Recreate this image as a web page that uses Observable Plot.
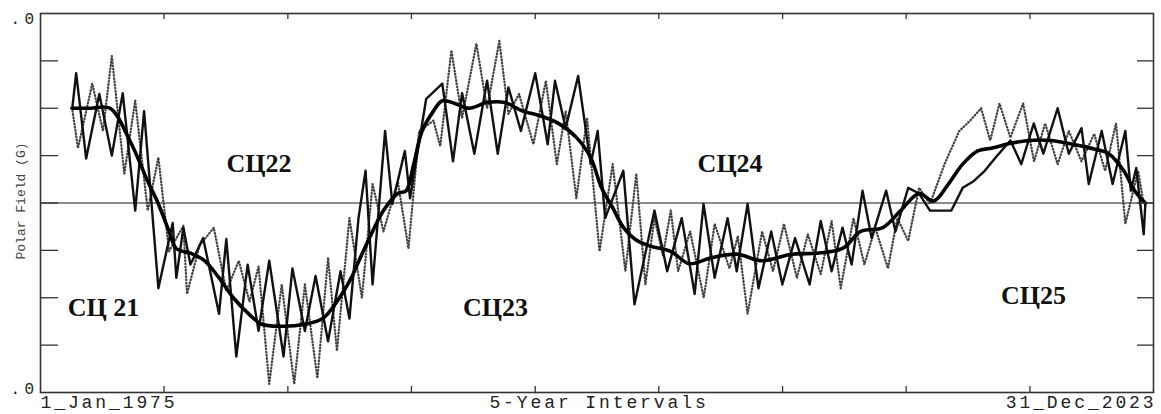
<!DOCTYPE html>
<html><head><meta charset="utf-8">
<script src="https://cdn.jsdelivr.net/npm/d3@7"></script>
<script src="https://cdn.jsdelivr.net/npm/@observablehq/plot@0.6"></script>
<style>
body{margin:0;background:#fff;}
</style>
</head><body><div id="chart"></div>
<script>
// Smoothed polar field (thick line)
const smoothT = [1976.38,1977.20,1978.06,1978.93,1979.72,1980.19,1980.66,1980.98,1981.60,1982.23,1982.86,1983.49,1984.12,1984.75,1985.70,1986.64,1987.42,1988.05,1988.68,1989.15,1989.62,1990.10,1990.73,1991.10,1991.43,1991.80,1992.30,1992.69,1993.24,1993.87,1994.66,1995.44,1996.23,1997.00,1997.80,1998.60,1999.22,1999.70,2000.19,2000.67,2001.16,2001.77,2002.74,2003.56,2004.50,2005.65,2006.77,2008.06,2009.17,2010.31,2011.11,2012.08,2012.87,2013.68,2014.32,2014.97,2015.60,2016.26,2016.90,2017.70,2018.50,2019.47,2020.43,2021.39,2022.03,2022.69,2023.17,2023.64];
const smoothV = [1.00,1.00,1.00,0.66,0.23,-0.01,-0.30,-0.48,-0.53,-0.61,-0.79,-1.00,-1.16,-1.28,-1.30,-1.28,-1.22,-1.04,-0.79,-0.54,-0.30,-0.08,0.10,0.13,0.41,0.76,0.97,1.08,1.05,1.00,1.06,1.06,0.97,0.92,0.84,0.69,0.48,0.16,-0.05,-0.26,-0.38,-0.45,-0.51,-0.64,-0.58,-0.54,-0.61,-0.54,-0.53,-0.48,-0.30,-0.26,-0.08,0.10,0.02,0.20,0.41,0.55,0.58,0.63,0.66,0.66,0.62,0.57,0.52,0.34,0.13,0.00];

// Raw polar field, solid line
const solidT = [1976.40,1976.57,1977.01,1977.59,1978.14,1978.62,1979.17,1979.56,1980.19,1980.82,1980.98,1981.29,1981.60,1982.16,1982.86,1983.18,1983.62,1984.12,1984.60,1985.07,1985.70,1986.09,1986.64,1987.11,1987.66,1988.21,1988.60,1989.00,1989.31,1989.62,1990.17,1990.49,1991.04,1991.27,1991.98,1992.69,1993.16,1993.56,1994.10,1994.66,1995.13,1995.60,1996.15,1996.78,1997.33,1997.65,1998.12,1998.67,1999.22,1999.53,1999.86,2000.66,2001.15,2002.03,2002.59,2003.23,2003.80,2004.19,2004.68,2005.25,2005.65,2006.13,2006.61,2007.17,2007.66,2008.22,2008.86,2009.35,2009.83,2010.31,2010.71,2011.19,2011.59,2012.23,2012.64,2013.20,2013.68,2014.16,2015.10,2015.60,2016.08,2016.57,2017.05,2017.70,2018.18,2018.73,2019.15,2019.78,2020.27,2020.83,2021.15,2021.72,2022.20,2022.76,2023.00,2023.24,2023.57,2023.64];
const solidV = [1.00,1.37,0.47,1.15,0.50,1.16,-0.08,0.97,-0.90,-0.21,-0.79,-0.26,-0.65,-0.37,-1.17,-0.38,-1.62,-0.65,-1.35,-0.61,-1.62,-0.69,-1.35,-0.77,-1.46,-0.72,-1.22,-0.16,0.34,-0.86,0.76,-0.01,0.55,0.05,1.10,1.26,0.44,1.16,0.52,1.29,0.52,1.22,0.76,1.37,0.62,1.29,0.79,1.34,0.41,0.76,-0.16,0.34,-1.07,-0.08,-0.72,-0.16,-0.96,-0.01,-0.79,-0.16,-0.72,-0.01,-0.90,-0.30,-0.86,-0.37,-0.86,-0.19,-0.72,-0.26,-0.65,0.13,-0.37,0.13,-0.30,0.16,0.10,-0.08,-0.08,0.16,0.23,0.34,0.48,0.66,0.41,0.84,0.52,1.00,0.52,0.79,0.20,0.76,0.20,0.76,0.13,0.37,-0.33,-0.01];

// Raw polar field, dotted line
const dotT = [1976.41,1976.65,1977.28,1977.75,1978.14,1978.69,1979.17,1979.72,1980.19,1980.66,1981.29,1981.45,1982.00,1982.63,1983.18,1983.73,1984.20,1984.60,1985.07,1985.62,1986.17,1986.64,1987.19,1987.66,1988.05,1988.60,1989.15,1989.62,1990.10,1990.73,1991.20,1991.67,1992.30,1992.60,1993.09,1993.56,1994.19,1994.66,1995.20,1995.60,1996.07,1996.70,1997.25,1997.73,1998.12,1998.59,1999.06,1999.61,2000.19,2000.75,2001.23,2001.63,2002.03,2002.40,2002.75,2003.07,2003.60,2004.20,2004.68,2005.33,2005.70,2006.13,2006.77,2007.25,2007.73,2008.30,2008.78,2009.35,2009.83,2010.23,2010.79,2011.27,2011.75,2012.31,2012.72,2013.20,2013.68,2014.16,2014.80,2015.45,2015.93,2016.41,2016.81,2017.22,2017.70,2018.26,2018.74,2019.23,2019.78,2020.27,2020.83,2021.39,2021.87,2022.35,2022.76,2023.32,2023.57];
const dotV = [0.97,0.58,1.26,0.76,1.55,0.31,1.08,-0.08,0.48,-0.51,-0.24,-0.96,-0.45,-0.26,-0.93,-0.61,-1.04,-0.67,-1.91,-0.86,-1.91,-0.86,-1.85,-0.58,-1.56,-0.16,-1.00,0.20,-0.30,0.23,-0.48,0.76,0.87,0.60,1.61,0.90,1.68,1.00,1.71,0.94,1.15,0.62,1.29,0.41,0.97,0.05,0.90,-0.51,0.41,-0.72,0.31,-0.86,-0.16,-0.55,-0.08,-0.72,-0.30,-1.00,-0.22,-0.69,-0.35,-1.17,-0.30,-0.72,-0.22,-0.79,-0.33,-0.75,-0.19,-0.90,-0.16,-0.65,-0.26,-0.69,-0.16,-0.40,0.16,-0.01,0.41,0.76,0.87,1.00,0.66,1.05,0.69,1.05,0.44,0.84,0.41,0.76,0.44,0.73,0.34,0.84,-0.22,0.34,-0.01];

// Axes and annotations
const xTicks = [1980.44,1985.89,1991.33,1996.78,2002.22,2007.67,2013.11,2018.56];
const yTicks = [-1.5,-1,-0.5,0,0.5,1,1.5];
const yEndTicks = [2,-2];
const yEndLabels = [".0",".0"];
const yTitle = "Polar Field (G)";
const bottomLabels = ["1_Jan_1975","5-Year Intervals","31_Dec_2023"];
const cycleNames = ["СЦ 21","СЦ22","СЦ23","СЦ24","СЦ25"];
const cycleT = [1977.77,1984.62,1995.03,2005.36,2018.72];
const cycleV = [-1.10,0.41,-1.10,0.41,-0.98];

const toRows = (T,V) => T.map((t,i) => ({t, v: V[i]}));
const smooth = toRows(smoothT, smoothV);
const solid = toRows(solidT, solidV);
const dotted = toRows(dotT, dotV);

const W = 1161, H = 414, mL = 40, mR = 8, mT = 13, mB = 22;
const innerW = W - mL - mR, innerH = H - mT - mB;
const mono = "'Liberation Mono', 'DejaVu Sans Mono', monospace";
const serif = "'Liberation Serif', 'DejaVu Serif', serif";

const chart = Plot.plot({
  width: W, height: H,
  marginLeft: mL, marginRight: mR, marginTop: mT, marginBottom: mB,
  style: {background: "#fff", overflow: "visible"},
  x: {domain: [1975, 2024], axis: null},
  y: {domain: [-2, 2], axis: null},
  marks: [
    Plot.ruleY([0], {stroke: "#8a8a8a", strokeWidth: 2}),
    Plot.line(dotted, {x: "t", y: "v", stroke: "#444", strokeWidth: 2.3, strokeDasharray: "0.6,2.6", strokeLinecap: "round"}),
    Plot.line(solid, {x: "t", y: "v", stroke: "#111", strokeWidth: 2.4}),
    Plot.line(smooth, {x: "t", y: "v", stroke: "#000", strokeWidth: 3.6, curve: "catmull-rom"}),
    Plot.frame({stroke: "#333", strokeWidth: 1.6}),
    Plot.tickY(yTicks, {y: d => d, insetRight: innerW - 18, stroke: "#333", strokeWidth: 1.3}),
    Plot.tickY(yTicks, {y: d => d, insetLeft: innerW - 16, stroke: "#333", strokeWidth: 1.3}),
    Plot.tickX(xTicks, {x: d => d, insetTop: innerH - 6, stroke: "#333", strokeWidth: 1.3}),
    Plot.tickX(xTicks, {x: d => d, insetBottom: innerH - 6, stroke: "#333", strokeWidth: 1.3}),
    Plot.text([yEndTicks[0]], {x: () => 1975, y: d => d, text: () => yEndLabels[0], dx: -2, dy: 5, textAnchor: "end", fontSize: 16, fontFamily: mono, fill: "#222"}),
    Plot.text([yEndTicks[1]], {x: () => 1975, y: d => d, text: () => yEndLabels[1], dx: -2, dy: -4, textAnchor: "end", fontSize: 16, fontFamily: mono, fill: "#222"}),
    Plot.text([yTitle], {frameAnchor: "left", textAnchor: "middle", rotate: -90, dx: -20, dy: -2, fontSize: 13, fontFamily: mono, fill: "#444"}),
    Plot.text([bottomLabels[0]], {frameAnchor: "bottom-left", textAnchor: "start", dx: 0, dy: 15, fontSize: 18, fontFamily: mono, fill: "#222"}),
    Plot.text([bottomLabels[1]], {frameAnchor: "bottom", textAnchor: "middle", dx: 2, dy: 15, fontSize: 18, fontFamily: mono, fill: "#222"}),
    Plot.text([bottomLabels[2]], {frameAnchor: "bottom-right", textAnchor: "end", dx: 3, dy: 15, fontSize: 18, fontFamily: mono, fill: "#222"}),
    Plot.text(cycleNames, {x: (d, i) => cycleT[i], y: (d, i) => cycleV[i], text: d => d, fontSize: 26, fontWeight: "bold", fontFamily: serif, fill: "#111"})
  ]
});
// letter spacing for the wide monospace labels
d3.select(chart).selectAll("text")
  .filter(function() { return bottomLabels.includes(this.textContent); })
  .style("letter-spacing", "2.9px");
d3.select(chart).selectAll("text")
  .filter(function() { return this.textContent === ".0"; })
  .style("letter-spacing", "4.4px");
document.getElementById("chart").appendChild(chart);
</script>
</body></html>
